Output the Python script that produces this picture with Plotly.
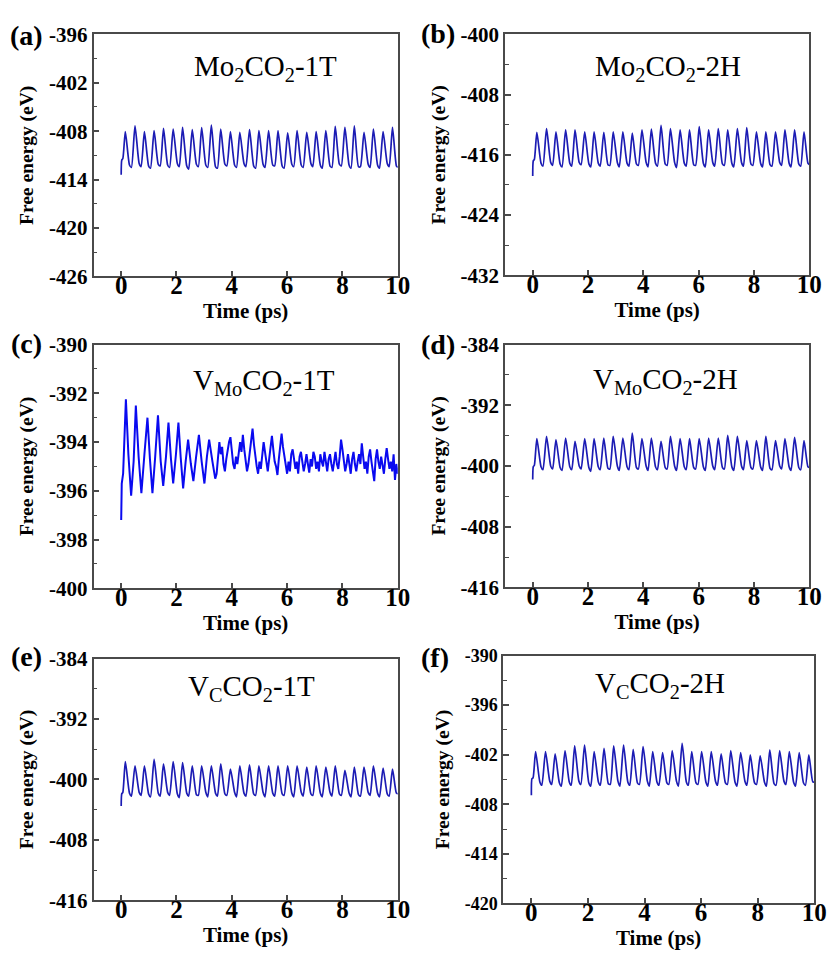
import plotly.graph_objects as go

# ---------------- data ----------------
# shared time grid for the regular panels (start, then peak / trough / trough per cycle)
T_REG = [0.00, 0.02, 0.06,
         0.15, 0.30, 0.37, 0.50, 0.65, 0.72, 0.84, 0.99, 1.06,
         1.19, 1.34, 1.41, 1.53, 1.68, 1.75, 1.88, 2.03, 2.10,
         2.22, 2.37, 2.44, 2.57, 2.72, 2.79, 2.91, 3.06, 3.13,
         3.26, 3.41, 3.48, 3.60, 3.75, 3.82, 3.95, 4.10, 4.17,
         4.29, 4.44, 4.51, 4.64, 4.79, 4.86, 4.98, 5.13, 5.20,
         5.33, 5.48, 5.55, 5.67, 5.82, 5.89, 6.02, 6.17, 6.24,
         6.36, 6.51, 6.58, 6.71, 6.86, 6.93, 7.05, 7.20, 7.27,
         7.40, 7.55, 7.62, 7.74, 7.89, 7.96, 8.09, 8.24, 8.31,
         8.43, 8.58, 8.65, 8.78, 8.93, 9.00, 9.12, 9.27, 9.34,
         9.47, 9.62, 9.69, 9.81, 9.95, 10.00]

# (a) Mo2CO2-1T
A_START = [-413.4, -411.6, -411.4]
A_PEAK = [-408.06, -407.33, -408.06, -407.94, -407.65, -407.73, -407.53, -407.81, -407.57, -407.25,
          -407.73, -408.06, -408.14, -407.81, -407.94, -407.94, -407.94, -408.22, -407.94, -408.14,
          -408.06, -407.94, -407.41, -407.53, -407.33, -408.14, -407.73, -408.06, -407.53]
A_TRA = [-412.2, -412.0, -412.3, -412.1, -412.2, -412.0, -412.3, -412.1, -412.2, -412.4,
         -412.1, -412.2, -412.0, -412.3, -412.1, -412.2, -412.3, -412.1, -412.2, -412.0,
         -412.2, -412.3, -412.1, -412.2, -412.4, -412.1, -412.2, -412.0, -412.3]
A_TRB = [-412.5, -412.4, -412.6, -412.3, -412.5, -412.4, -412.7, -412.4, -412.5, -412.6,
         -412.3, -412.5, -412.4, -412.6, -412.5, -412.3, -412.6, -412.4, -412.5, -412.4,
         -412.6, -412.5, -412.3, -412.6, -412.4, -412.5, -412.6, -412.4, -412.5]

# (b) Mo2CO2-2H
B_START = [-418.8, -416.8, -416.6]
B_PEAK = [-413.02, -412.51, -412.94, -412.68, -412.68, -412.94, -412.94, -413.02, -412.94, -412.94,
          -413.11, -412.68, -412.59, -412.07, -412.51, -412.68, -412.68, -412.25, -412.68, -412.51,
          -412.68, -412.51, -412.38, -412.94, -412.94, -412.94, -412.68, -412.68, -412.94]
B_TRA = [-417.1, -417.0, -417.2, -417.1, -417.0, -417.2, -417.1, -417.3, -417.0, -417.1,
         -417.2, -417.0, -417.1, -417.2, -417.0, -417.1, -417.3, -417.1, -417.0, -417.2,
         -417.1, -417.0, -417.2, -417.1, -417.3, -417.0, -417.1, -417.2, -417.1]
B_TRB = [-417.5, -417.4, -417.6, -417.5, -417.3, -417.6, -417.5, -417.4, -417.6, -417.5,
         -417.4, -417.6, -417.5, -417.4, -417.7, -417.5, -417.4, -417.6, -417.5, -417.4,
         -417.6, -417.5, -417.4, -417.6, -417.5, -417.4, -417.6, -417.5, -417.3]

# (c) VMoCO2-1T  (irregular, own time axis)
T_C = [0.00, 0.02, 0.07, 0.17, 0.26, 0.36, 0.45, 0.53, 0.63, 0.73,
       0.84, 0.95, 1.04, 1.13, 1.23, 1.33, 1.43, 1.52, 1.62, 1.71,
       1.80, 1.88, 1.98, 2.07, 2.15, 2.24, 2.33, 2.42, 2.52, 2.61,
       2.71, 2.81, 2.91, 3.01, 3.10, 3.18, 3.30, 3.40,
       3.45, 3.50, 3.55, 3.60, 3.65, 3.70, 3.75, 3.80, 3.85, 3.90,
       3.95, 4.00, 4.05, 4.10, 4.15, 4.20, 4.25, 4.30, 4.35, 4.40,
       4.45, 4.50, 4.55, 4.60, 4.65, 4.70, 4.75, 4.80, 4.85, 4.90,
       4.95, 5.00, 5.05, 5.10, 5.15, 5.20, 5.25, 5.30, 5.35, 5.40,
       5.45, 5.50, 5.55, 5.60, 5.65, 5.70, 5.75, 5.80, 5.85, 5.90,
       5.95, 6.00, 6.05, 6.10, 6.15, 6.20, 6.25, 6.30, 6.35, 6.40,
       6.45, 6.50, 6.55, 6.60, 6.65, 6.70, 6.75, 6.80, 6.85, 6.90,
       6.95, 7.00, 7.05, 7.10, 7.15, 7.20, 7.25, 7.30, 7.35, 7.40,
       7.45, 7.50, 7.55, 7.60, 7.65, 7.70, 7.75, 7.80, 7.85, 7.90,
       7.95, 8.00, 8.05, 8.10, 8.15, 8.20, 8.25, 8.30, 8.35, 8.40,
       8.45, 8.50, 8.55, 8.60, 8.65, 8.70, 8.75, 8.80, 8.85, 8.90,
       8.95, 9.00, 9.05, 9.10, 9.15, 9.20, 9.25, 9.30, 9.35, 9.40,
       9.45, 9.50, 9.55, 9.60, 9.65, 9.70, 9.75, 9.80, 9.85, 9.90,
       9.95, 10.00]
E_C = [-397.2, -395.7, -395.3, -392.25, -394.5, -396.2, -394.8, -392.5, -394.6, -396.1,
       -394.5, -393.0, -394.7, -396.1, -394.6, -392.9, -394.8, -395.8, -394.6, -393.2,
       -394.7, -395.7, -394.5, -393.2, -394.6, -395.9, -394.8, -393.9, -394.9, -395.6,
       -394.6, -393.7, -394.8, -395.7, -394.6, -393.9, -394.8, -395.5,
       -395.3, -394.6, -394.0, -394.5, -394.2, -394.9, -395.2, -394.7, -394.3, -394.0,
       -393.8, -394.4, -394.9, -395.1, -394.6, -394.9, -394.3, -394.0, -394.4, -393.7,
       -394.3, -394.8, -395.2, -394.9, -394.4, -393.9, -393.45, -394.1, -394.6, -395.0,
       -395.3, -394.8, -395.1, -394.5, -394.0, -394.4, -394.9, -395.2, -394.7, -394.1,
       -393.75, -394.3, -394.8, -395.0, -395.35, -394.7, -394.2, -393.65, -394.2, -394.6,
       -395.1, -395.3, -394.8, -395.2, -394.5, -394.3, -394.7, -395.1, -394.8, -395.3,
       -394.6, -394.4, -394.8, -395.2, -394.9, -394.5, -394.9, -395.25, -394.7, -395.0,
       -394.4, -394.6, -395.1, -394.8, -395.2, -394.5, -394.8, -395.0, -394.4, -394.9,
       -395.2, -394.7, -394.5, -394.9, -395.2, -394.8, -394.4, -394.9, -395.1, -394.6,
       -393.9, -394.3, -394.8, -395.2, -394.9, -394.5, -394.9, -395.3, -394.7, -394.4,
       -394.9, -395.2, -394.8, -394.5, -394.9, -394.05, -394.6, -395.1, -394.8, -395.3,
       -394.6, -394.3, -394.8, -395.2, -395.6, -394.7, -394.3, -394.8, -395.1, -394.6,
       -394.9, -395.3, -394.7, -394.25, -394.7, -395.1, -394.8, -395.2, -394.5, -395.55,
       -394.9, -395.3]

# (d) VMoCO2-2H
D_START = [-401.8, -400.1, -399.9]
D_PEAK = [-396.41, -396.11, -396.53, -396.32, -396.75, -396.41, -396.41, -396.32, -396.11, -396.32,
          -395.68, -396.41, -396.32, -396.75, -396.11, -396.41, -396.41, -396.41, -396.32, -396.32,
          -395.98, -396.11, -396.66, -396.66, -396.11, -396.66, -396.41, -396.24, -396.66]
D_TRA = [-400.1, -400.0, -400.2, -400.1, -400.0, -400.2, -400.1, -400.3, -400.0, -400.1,
         -400.2, -400.0, -400.1, -400.2, -400.0, -400.1, -400.2, -400.1, -400.0, -400.2,
         -400.1, -400.0, -400.2, -400.1, -400.3, -400.0, -400.1, -400.2, -400.1]
D_TRB = [-400.5, -400.4, -400.6, -400.5, -400.4, -400.7, -400.5, -400.4, -400.6, -400.5,
         -400.4, -400.6, -400.5, -400.4, -400.6, -400.5, -400.4, -400.6, -400.5, -400.4,
         -400.6, -400.5, -400.4, -400.6, -400.5, -400.4, -400.6, -400.5, -400.2]

# (e) VCCO2-1T
E_START = [-403.5, -401.9, -401.7]
E_PEAK = [-397.63, -398.19, -398.19, -397.33, -397.94, -397.63, -397.76, -398.19, -398.19, -398.19,
          -397.94, -398.62, -398.19, -398.06, -398.19, -398.19, -398.19, -398.19, -398.19, -398.37,
          -398.19, -398.37, -398.19, -398.80, -398.37, -398.37, -398.19, -398.49, -398.62]
E_TRA = [-401.8, -401.7, -401.9, -401.8, -401.7, -401.9, -401.8, -402.0, -401.7, -401.8,
         -401.9, -401.7, -401.8, -401.9, -401.7, -401.8, -401.9, -401.8, -401.7, -401.9,
         -401.8, -401.7, -401.9, -401.8, -402.0, -401.7, -401.8, -401.9, -401.8]
E_TRB = [-402.2, -402.1, -402.3, -402.2, -402.1, -402.4, -402.2, -402.1, -402.3, -402.2,
         -402.1, -402.3, -402.2, -402.1, -402.3, -402.2, -402.1, -402.3, -402.2, -402.1,
         -402.3, -402.2, -402.1, -402.3, -402.2, -402.1, -402.3, -402.2, -401.9]

# (f) VCCO2-2H
F_START = [-406.9, -404.9, -404.8]
F_PEAK = [-401.61, -401.61, -401.89, -401.50, -400.94, -400.83, -401.61, -401.22, -400.94, -400.83,
          -401.34, -401.02, -401.61, -401.73, -401.50, -400.63, -401.61, -401.61, -401.61, -401.89,
          -401.50, -401.73, -402.01, -402.13, -401.42, -401.50, -401.61, -401.73, -402.01]
F_TRA = [-405.3, -405.2, -405.4, -405.3, -405.2, -405.4, -405.3, -405.5, -405.2, -405.3,
         -405.4, -405.2, -405.3, -405.4, -405.2, -405.3, -405.4, -405.3, -405.2, -405.4,
         -405.3, -405.2, -405.4, -405.3, -405.5, -405.2, -405.3, -405.4, -405.3]
F_TRB = [-405.7, -405.6, -405.8, -405.7, -405.6, -405.8, -405.7, -405.6, -405.8, -405.7,
         -405.6, -405.8, -405.7, -405.6, -405.8, -405.7, -405.6, -405.8, -405.7, -405.6,
         -405.8, -405.7, -405.6, -405.8, -405.7, -405.6, -405.8, -405.7, -405.3]

X_TICKS = [0, 2, 4, 6, 8, 10]
X_TICKTEXT = ["0", "2", "4", "6", "8", "10"]

Y_TICKS_A = [-426, -420, -414, -408, -402, -396]
Y_TICKS_B = [-432, -424, -416, -408, -400]
Y_TICKS_C = [-400, -398, -396, -394, -392, -390]
Y_TICKS_D = [-416, -408, -400, -392, -384]
Y_TICKS_E = [-416, -408, -400, -392, -384]
Y_TICKS_F = [-420, -414, -408, -402, -396, -390]

PANEL_LABELS = ["(a)", "(b)", "(c)", "(d)", "(e)", "(f)"]
NAMES = ["Mo<sub>2</sub>CO<sub>2</sub>-1T", "Mo<sub>2</sub>CO<sub>2</sub>-2H",
         "V<sub>Mo</sub>CO<sub>2</sub>-1T", "V<sub>Mo</sub>CO<sub>2</sub>-2H",
         "V<sub>C</sub>CO<sub>2</sub>-1T", "V<sub>C</sub>CO<sub>2</sub>-2H"]


def build(start, peaks, tra, trb):
    out = list(start)
    for p, a, b in zip(peaks, tra, trb):
        out += [p, a, b]
    return out


series = [
    (T_REG, build(A_START, A_PEAK, A_TRA, A_TRB)),
    (T_REG, build(B_START, B_PEAK, B_TRA, B_TRB)),
    (T_C, E_C),
    (T_REG, build(D_START, D_PEAK, D_TRA, D_TRB)),
    (T_REG, build(E_START, E_PEAK, E_TRA, E_TRB)),
    (T_REG, build(F_START, F_PEAK, F_TRA, F_TRB)),
]
yticks = [Y_TICKS_A, Y_TICKS_B, Y_TICKS_C, Y_TICKS_D, Y_TICKS_E, Y_TICKS_F]

# ---------------- layout (pixel boxes of each plot area) ----------------
W, H = 840, 968
boxes = [  # left, right, top, bottom in px
    (95, 404, 23, 271),
    (513, 822, 23, 270),
    (95, 404, 341, 591),
    (513, 822, 341, 590),
    (95, 404, 663, 911),
    (511, 827, 660, 914),
]
label_pos = [(27, 24), (445, 22), (27, 340), (445, 341), (27, 661), (442, 662)]
name_pos = [(270, 57), (678, 57), (268, 379), (676, 378), (255, 693), (670, 690)]
line_colors = ["#1c1cb4", "#1c1cb4", "#0a0af0", "#1c1cb4", "#1c1cb4", "#1c1cb4"]

FONT = "Liberation Serif"
AXC = "#4a4a4a"

fig = go.Figure()
layout = dict(width=W, height=H, margin=dict(l=0, r=0, t=0, b=0),
              paper_bgcolor="white", plot_bgcolor="white", showlegend=False,
              font=dict(family=FONT, color="black"))
annotations = []

for i, ((tx, ey), yt, box) in enumerate(zip(series, yticks, boxes)):
    n = i + 1
    xa = "x" if n == 1 else f"x{n}"
    ya = "y" if n == 1 else f"y{n}"
    if n == 3:
        line = dict(color=line_colors[i], width=2.0)
    else:
        line = dict(color=line_colors[i], width=1.7, shape="spline", smoothing=0.6)
    fig.add_trace(go.Scatter(x=tx, y=ey, mode="lines", xaxis=xa, yaxis=ya, line=line))
    l, r, t, b = box
    step = yt[1] - yt[0]
    ysize = 18 if n == 6 else 21
    layout[f"xaxis{'' if n == 1 else n}"] = dict(
        domain=[l / W, r / W], anchor=ya, range=[-1, 10],
        tickmode="array", tickvals=X_TICKS, ticktext=X_TICKTEXT,
        ticks="inside", ticklen=6, tickwidth=1.5, tickcolor=AXC,
        showline=True, mirror=True, linecolor=AXC, linewidth=1.5,
        showgrid=False, zeroline=False, ticklabelstandoff=-14,
        tickfont=dict(family=FONT, size=25, weight="bold", color="black"),
        title=dict(text="Time (ps)", standoff=0,
                   font=dict(family=FONT, size=21, weight="bold", color="black")),
    )
    layout[f"yaxis{'' if n == 1 else n}"] = dict(
        domain=[1 - b / H, 1 - t / H], anchor=xa, range=[yt[0], yt[-1]],
        tickmode="array", tickvals=yt, ticktext=[f"-{abs(v)}" for v in yt],
        ticks="inside", ticklen=6, tickwidth=1.5, tickcolor=AXC,
        minor=dict(ticks="inside", ticklen=4, tickwidth=1.2, tickcolor=AXC,
                   tick0=yt[0], dtick=step / 2),
        showline=True, mirror=True, linecolor=AXC, linewidth=1.5,
        showgrid=False, zeroline=False,
        tickfont=dict(family=FONT, size=ysize, weight="bold", color="black"),
        title=dict(text="Free energy (eV)", standoff=10,
                   font=dict(family=FONT, size=19.5, weight="bold", color="black")),
    )
    lx, ly = label_pos[i]
    annotations.append(dict(text=PANEL_LABELS[i], x=lx / W, y=1 - ly / H, xref="paper", yref="paper",
                            showarrow=False, xanchor="center", yanchor="middle",
                            font=dict(family=FONT, size=28, weight="bold", color="black")))
    nx, ny = name_pos[i]
    annotations.append(dict(text=NAMES[i], x=nx / W, y=1 - ny / H, xref="paper", yref="paper",
                            showarrow=False, xanchor="center", yanchor="middle",
                            font=dict(family=FONT, size=29, color="black")))

layout["annotations"] = annotations
fig.update_layout(**layout)
fig.write_html("out.html")
